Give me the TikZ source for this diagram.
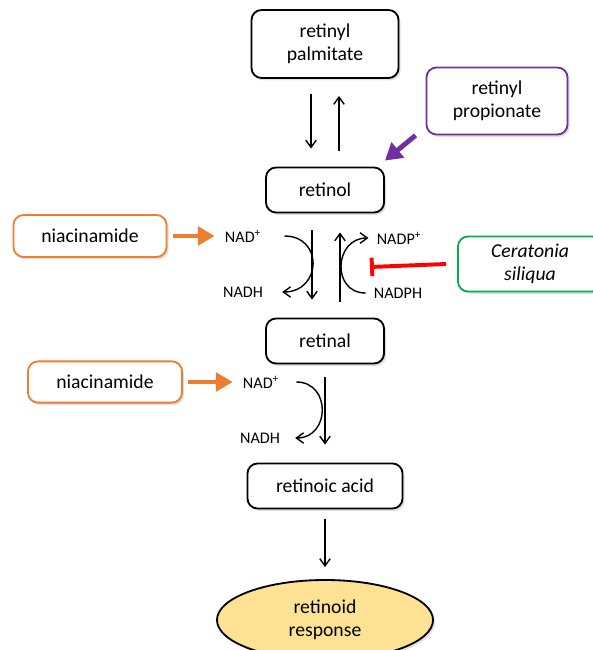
\documentclass[tikz,border=0pt]{standalone}
\usepackage{fontspec}
\setmainfont{Carlito}
\usetikzlibrary{arrows.meta,shapes.geometric,shadows}
\definecolor{orng}{RGB}{237,125,49}
\definecolor{purp}{RGB}{112,48,160}
\definecolor{grn}{RGB}{0,176,80}
\definecolor{yell}{RGB}{252,226,146}

\begin{document}
\begin{tikzpicture}[x=0.025cm,y=-0.025cm,
		boxx/.style={
			draw,
			rounded corners=0.25cm,
			line width=1.3pt,
			fill=white,
			align=center,
			inner sep=2pt,
			font=\fontsize{14}{16.5}\selectfont,
			drop shadow={opacity=0.25,shadow xshift=0.05cm,shadow yshift=-0.06cm}
		},
		ovl/.style={
			draw,
			ellipse,
			line width=1.3pt,
			fill=yell,
			align=center,
			inner sep=0pt,
			minimum width=5.4cm,
			minimum height=2cm,
			font=\fontsize{14}{16.5}\selectfont,
			drop shadow={opacity=0.25,shadow xshift=0.05cm,shadow yshift=-0.06cm}
		},
		cof/.style={
			inner sep=0pt,
			font=\fontsize{11.5}{13}\selectfont
		},
		arr/.style={-{Straight Barb[length=1.8mm,width=2.6mm]}, line width=1pt},
		oarr/.style={-{Triangle[length=4.2mm,width=4.6mm]}, line width=3.5pt, draw=orng},
		]
		
		\useasboundingbox (0,0) rectangle (592,650);
		
		\node[boxx, minimum width=3.675cm, minimum height=1.7cm] at (325, 44)
		(pal) {retinyl\\palmitate};
		\node[boxx, draw=purp, minimum width=3.525cm, minimum height=1.675cm] at (497, 101)
		(prop) {retinyl\\propionate};
		\node[boxx, minimum width=2.95cm, minimum height=1.125cm] at (325, 190)
		(rol) {retinol};
		\node[boxx, minimum width=2.95cm, minimum height=1.125cm] at (325, 341)
		(ral) {retinal};
		\node[boxx, minimum width=3.875cm, minimum height=1.125cm] at (325, 486)
		(acid) {retinoic acid};
		\node[ovl] at (325, 620)
		(resp) {retinoid\\response};
		
		\node[boxx, draw=orng, minimum width=3.825cm, minimum height=1.05cm] at (90, 236)
		(nia1) {niacinamide};
		\node[boxx, draw=orng, minimum width=3.85cm, minimum height=1.03cm] at (105, 382)
		(nia2) {niacinamide};
		\node[boxx, draw=grn, minimum width=3.6cm, minimum height=1.375cm] at (530, 264)
		(cer) {\itshape Ceratonia\\\itshape siliqua};
		
		\node[cof] at (243, 236) (nad1) {NAD\textsuperscript{+}};
		\node[cof] at (243, 292) (nadh1) {NADH};
		\node[cof] at (399, 238) (nadp) {NADP\textsuperscript{+}};
		\node[cof] at (398, 293) (nadph) {NADPH};
		\node[cof] at (261, 382) (nad2) {NAD\textsuperscript{+}};
		\node[cof] at (260, 438) (nadh2) {NADH};
		
		\coordinate (inh) at (370, 267);
		
		\draw[arr] ([xshift=-0.35cm, yshift=-0.375cm]pal.south) -- ([xshift=-0.35cm, yshift=0.45cm]rol.north);
		\draw[arr] ([xshift=0.35cm, yshift=0.4cm]rol.north) -- ([xshift=0.35cm, yshift=-0.425cm]pal.south);
		\draw[arr] ([xshift=-0.325cm, yshift=-0.425cm]rol.south) -- ([xshift=-0.325cm, yshift=0.45cm]ral.north);
		\draw[arr] ([xshift=0.375cm, yshift=0.4cm]ral.north) -- ([xshift=0.375cm, yshift=-0.475cm]rol.south);
		\draw[arr] ([yshift=-0.325cm]ral.south) -- ([yshift=0.45cm]acid.north);
		\draw[arr] ([yshift=-0.25cm]acid.south) -- ([yshift=0.3cm]resp.north);
		
		\draw[arr] ([xshift=0.575cm]nad1.east) to[out=0, in=0, looseness=1.8] ([xshift=0.475cm]nadh1.east);
		\draw[arr] ([xshift=-0.2cm]nadph.west) to[out=180, in=180, looseness=1.6] ([xshift=-0.2cm]nadp.west);
		\draw[arr] ([xshift=0.425cm]nad2.east) to[out=0, in=0, looseness=1.6] ([xshift=0.375cm]nadh2.east);
		
		\draw[oarr] ([xshift=0.15cm]nia1.east) -- ([xshift=-0.25cm]nad1.west);
		\draw[oarr] ([xshift=0.125cm]nia2.east) -- ([xshift=-0.25cm]nad2.west);
		\draw[-{Triangle[length=4.2mm,width=4.8mm]}, line width=3.5pt, draw=purp] ([xshift=-0.25cm]prop.south west) -- ([yshift=0.15cm]rol.north east);
		\draw[-{Bar[width=4.6mm]}, line width=2.8pt, draw=red] ([xshift=-0.275cm]cer.west) -- (inh);
		
		\end{tikzpicture}
\end{document}
